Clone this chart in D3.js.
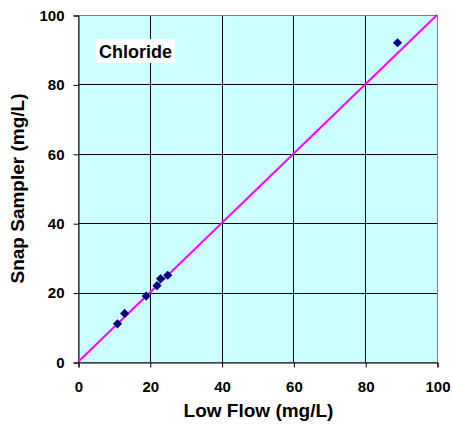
<!DOCTYPE html>
<html><head><meta charset="utf-8">
<script src="https://cdn.jsdelivr.net/npm/d3@7"></script>
<style>body{margin:0;background:#fff}svg{display:block}</style>
</head><body>
<svg id="c" width="452" height="426"></svg>
<script>
const xVals = [11, 13, 19, 22, 23, 25, 89];
const yVals = [11, 14, 19, 22, 24, 25, 92];
const ticks = [0, 20, 40, 60, 80, 100];
const lineX = [0, 100];
const title = "Chloride";
const xTitle = "Low Flow (mg/L)";
const yTitle = "Snap Sampler (mg/L)";

const svg = d3.select("#c");
const L = 78, R = 437, T = 15, B = 362;
const x = d3.scaleLinear().domain([0, 100]).range([L, R]);
const y = d3.scaleLinear().domain([0, 100]).range([B, T]);

svg.append("rect").attr("x", L).attr("y", T).attr("width", R - L).attr("height", B - T).attr("fill", "#CCFFFF");

const g = svg.append("g");
g.selectAll("line.vx").data(ticks.slice(1, -1)).join("line")
  .attr("x1", d => Math.round(x(d)) + 0.5).attr("x2", d => Math.round(x(d)) + 0.5)
  .attr("y1", T).attr("y2", B).attr("stroke", "#000").attr("stroke-width", 1);
g.selectAll("line.hy").data(ticks.slice(1, -1)).join("line")
  .attr("y1", d => Math.round(y(d)) + 0.5).attr("y2", d => Math.round(y(d)) + 0.5)
  .attr("x1", L).attr("x2", R).attr("stroke", "#000").attr("stroke-width", 1);

svg.append("rect").attr("x", L + 0.5).attr("y", T + 0.5).attr("width", R - L).attr("height", B - T)
  .attr("fill", "none").attr("stroke", "#808080").attr("stroke-width", 1);

const font = "Arial, 'Liberation Sans', sans-serif";
const xa = svg.append("g").attr("transform", `translate(0.5,${B + 0.5})`)
  .call(d3.axisBottom(x).tickValues(ticks).tickSize(5).tickPadding(14));
const ya = svg.append("g").attr("transform", `translate(${L + 0.5},0.5)`)
  .call(d3.axisLeft(y).tickValues(ticks).tickSize(5).tickPadding(9));
[xa, ya].forEach(a => {
  a.attr("font-family", font).attr("font-size", 15).attr("font-weight", "bold");
  a.select(".domain").attr("stroke", "#000");
  a.selectAll(".tick line").attr("stroke", "#000");
  a.selectAll("text").attr("fill", "#000");
});

svg.append("line").attr("x1", x(lineX[0])).attr("y1", y(lineX[0])).attr("x2", x(lineX[1])).attr("y2", y(lineX[1]))
  .attr("stroke", "#FF00FF").attr("stroke-width", 2);

const pts = xVals.map((v, i) => [v, yVals[i]]);
svg.selectAll("path.pt").data(pts).join("path")
  .attr("d", d3.symbol(d3.symbolDiamond2, 54))
  .attr("transform", d => `translate(${x(d[0])},${y(d[1])})`)
  .attr("fill", "#000080");

svg.append("rect").attr("x", 96).attr("y", 39).attr("width", 79).attr("height", 24).attr("fill", "#fff");
svg.append("text").attr("x", 135.5).attr("y", 57.5).attr("text-anchor", "middle")
  .attr("font-family", font).attr("font-size", 18).attr("font-weight", "bold").text(title);

svg.append("text").attr("x", (L + R) / 2 + 1).attr("y", 417).attr("text-anchor", "middle")
  .attr("font-family", font).attr("font-size", 19).attr("font-weight", "bold").text(xTitle);
svg.append("text").attr("transform", `translate(24,${(T + B) / 2}) rotate(-90)`).attr("text-anchor", "middle")
  .attr("font-family", font).attr("font-size", 19).attr("font-weight", "bold").text(yTitle);
</script>
</body></html>
